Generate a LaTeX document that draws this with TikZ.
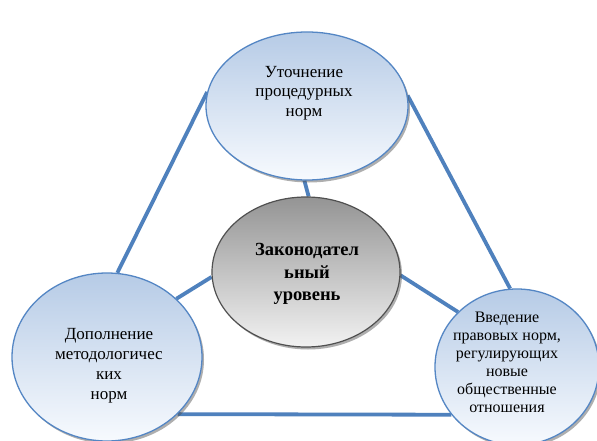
\documentclass[tikz,border=0pt]{standalone}
\usepackage{fontspec}
\setmainfont{Liberation Serif}
\usetikzlibrary{shapes.geometric,shadows,backgrounds}

\definecolor{linkblue}{RGB}{79,129,189}
\definecolor{rimblue}{RGB}{84,134,196}
\definecolor{bluetop}{RGB}{182,203,230}
\definecolor{bluebot}{RGB}{247,250,254}
\definecolor{greytop}{RGB}{148,148,148}
\definecolor{greybot}{RGB}{242,242,242}
\definecolor{greyrim}{RGB}{80,80,80}

\begin{document}
\begin{tikzpicture}[x=1pt,y=-1pt,
  rimshadow/.style={drop shadow={shadow xshift=2pt,shadow yshift=-2.5pt,fill=black!70,opacity=0.45}},
  bubble/.style={ellipse,draw=rimblue,line width=1.3pt,
    top color=bluetop,bottom color=bluebot,inner sep=0pt,rimshadow},
  core/.style={ellipse,draw=greyrim,line width=1.2pt,
    top color=greytop,bottom color=greybot,inner sep=0pt,rimshadow},
  link/.style={draw=linkblue,line width=3.8pt},
  txt/.style={align=center,inner sep=0pt,text=black}]

\useasboundingbox (0,0) rectangle (597,441);

% the four ellipses
\node[bubble,minimum width=202pt,minimum height=148pt] (T) at (307,106) {};
\node[core,minimum width=188pt,minimum height=150pt] (C) at (306,272) {};
\node[bubble,minimum width=190pt,minimum height=168pt] (L) at (107,357) {};
\node[bubble,minimum width=164pt,minimum height=156pt] (R) at (517,367) {};

% their texts
\node[txt,font=\fontsize{17}{19.5}\selectfont] (Tt) at (304,93)
  {Уточнение\\процедурных\\норм};
\node[txt,font=\bfseries\fontsize{18.5}{22.5}\selectfont] (Ct) at (307,274)
  {Законодател\\ьный\\уровень};
\node[txt,font=\fontsize{17}{20}\selectfont] (Lt) at (109,366)
  {Дополнение\\методологичес\\ких\\ норм};
\node[txt,font=\fontsize{16}{18}\selectfont] (Rt) at (507,362)
  {Введение\\правовых норм,\\регулирующих\\новые\\общественные\\отношения};

% connectors, kept behind the ellipses
\begin{scope}[on background layer]
  \fill[white] (0,0) rectangle (597,441);
  \draw[link] (T.172) -- (L.83);
  \draw[link] (T.6) -- (R.95);
  \draw[link] (L.-39) -- (R.216);
  \draw[link] (T.268) -- (C.88);
  \draw[link] (C.183) -- (L.40);
  \draw[link] (C.-2) -- (R.137);
\end{scope}
\end{tikzpicture}
\end{document}
